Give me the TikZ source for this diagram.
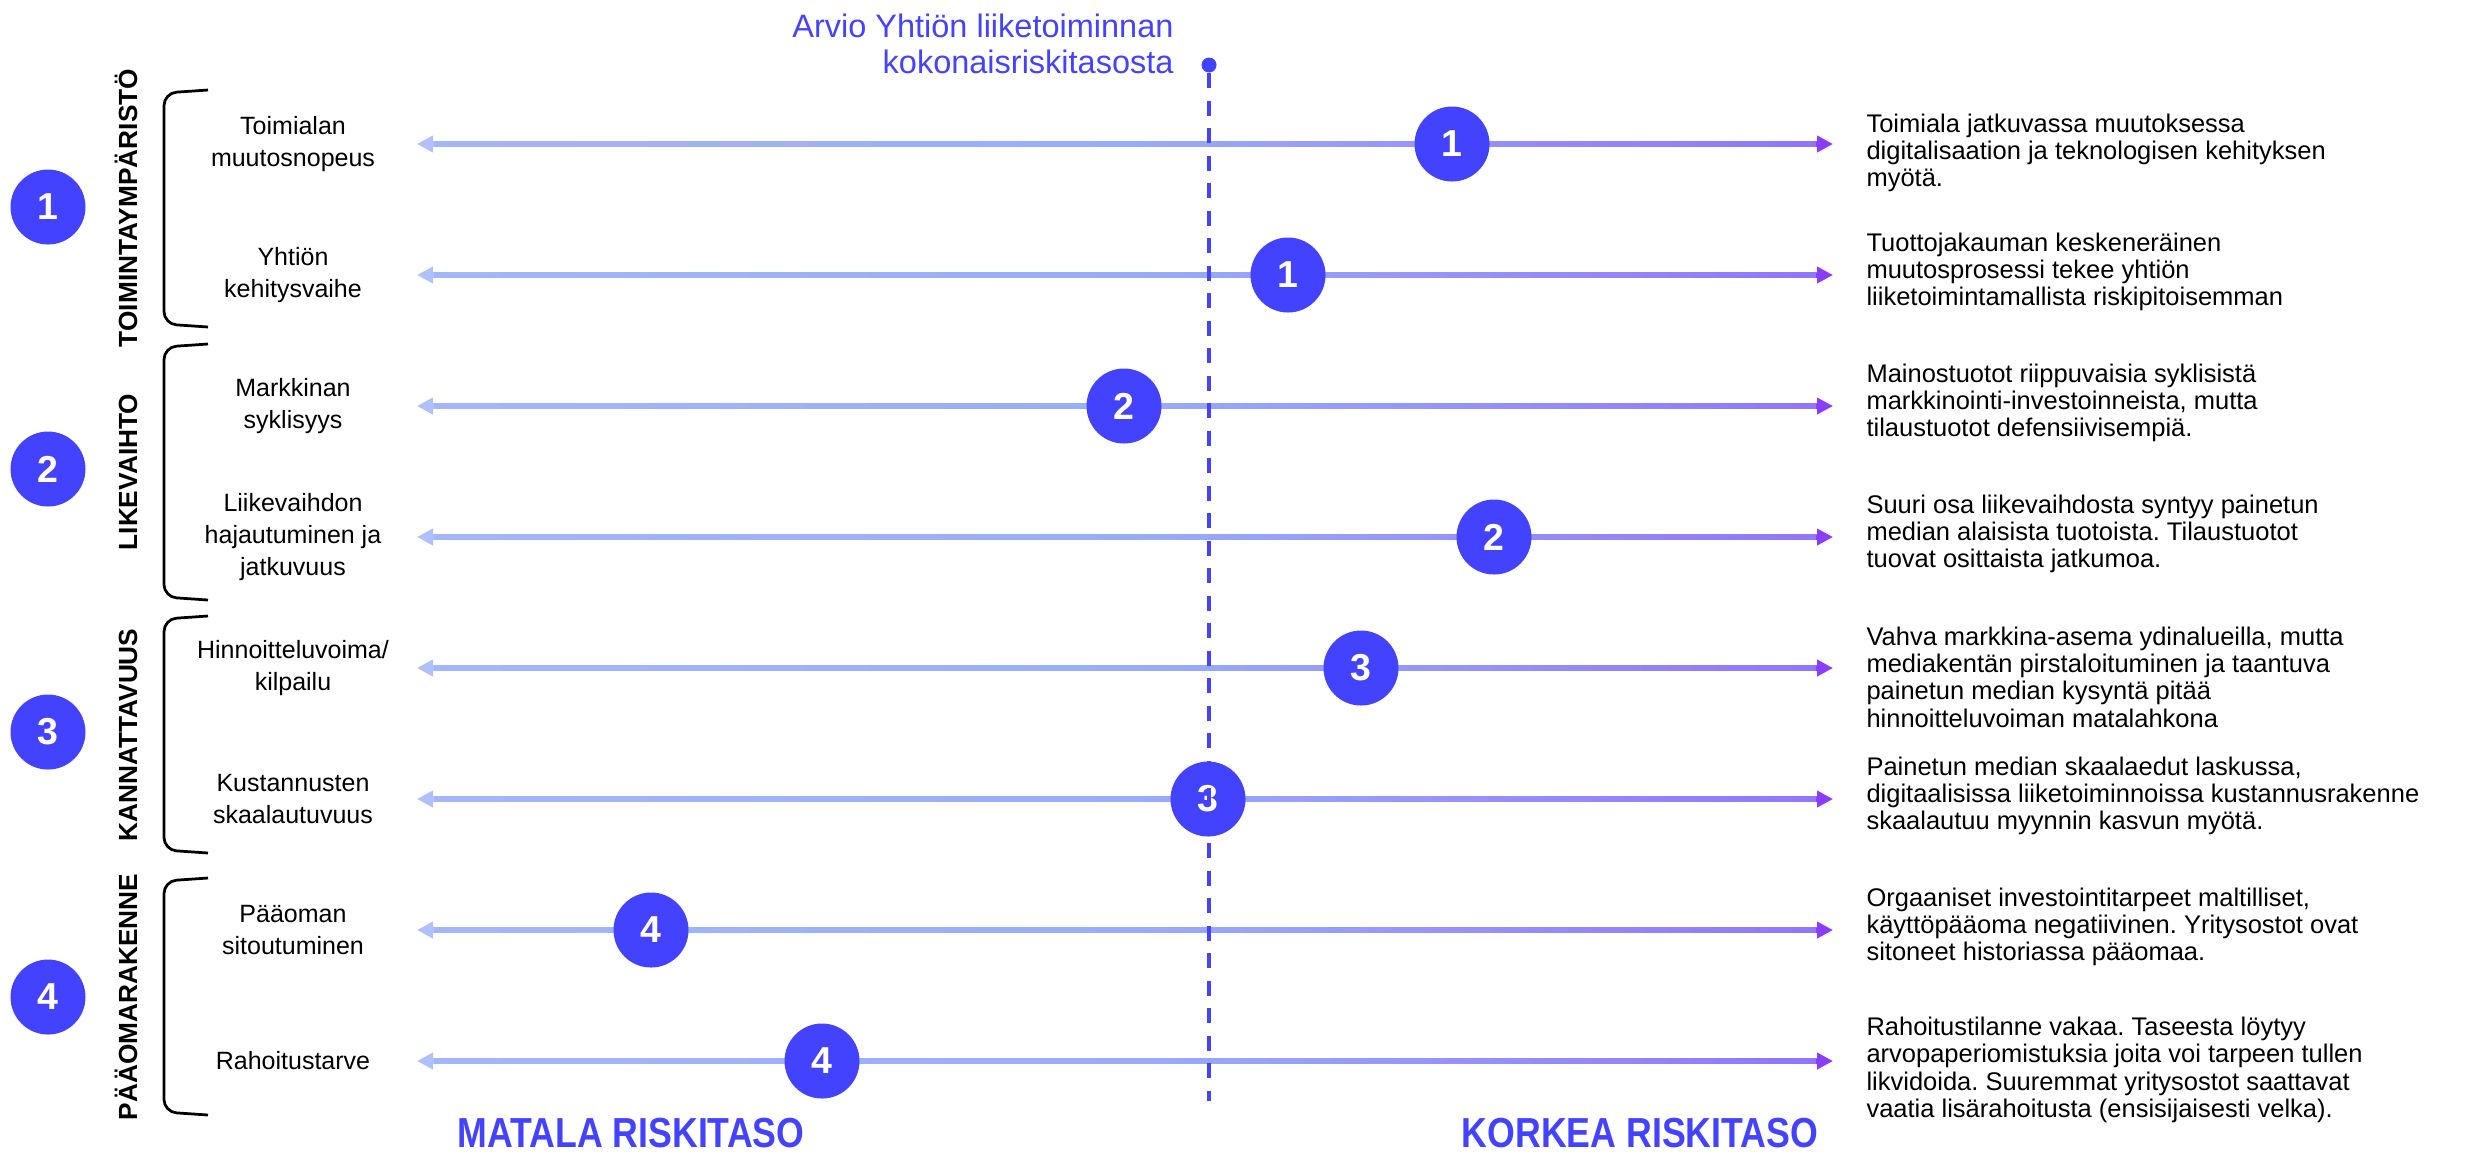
\documentclass[tikz,border=0pt]{standalone}
\usepackage{fontspec}
\setmainfont{Liberation Sans}
\newfontfamily\condfont[FakeStretch=0.85]{Liberation Sans}
\usetikzlibrary{arrows.meta,calc}
\frenchspacing

\definecolor{riskblue}{HTML}{4343FF}
\definecolor{barlo}{HTML}{B0C0FB}
\definecolor{barmid}{HTML}{98ADF9}
\definecolor{barhi}{HTML}{8B3DFF}

\pgfdeclarehorizontalshading{riskshade}{100bp}{color(0bp)=(barlo); color(50bp)=(barmid); color(100bp)=(barhi)}

\tikzset{
  numdot/.style={circle, fill=riskblue, text=white, inner sep=0pt, minimum size=30pt,
    font=\fontsize{15}{15}\selectfont\bfseries},
  rowlabel/.style={align=center, inner sep=0pt, font=\fontsize{10}{12.7}\selectfont},
  risktext/.style={anchor=west, align=left, inner sep=0pt, font=\fontsize{10.2}{10.9}\selectfont},
  grouplabel/.style={rotate=90, anchor=base, inner sep=0pt, font=\fontsize{10.5}{10.5}\selectfont\bfseries},
  bracket/.style={line width=1.1pt, rounded corners=5pt},
  barhead/.style={line width=2pt, -{Triangle[length=6.4pt,width=6.4pt]}},
  axisend/.style={text=riskblue, inner sep=0pt, font=\condfont\fontsize{16.8}{16.8}\selectfont\bfseries},
}

% shaded bar with a light head on the left and a dark head on the right
\newcommand{\riskbar}[2]{%
  \fill[shading=riskshade] ($(#1)+(10,-2.5)$) rectangle ($(#2)+(-10,2.5)$);
  \draw[barhead, barlo] ($(#1)+(17,0)$) -- (#1);
  \draw[barhead, barhi] ($(#2)+(-17,0)$) -- (#2);
}

\begin{document}
\begin{tikzpicture}[x=0.4pt, y=-0.4pt]
  \useasboundingbox (0,0) rectangle (2478,1156);

  % Estimate
  \node[align=right, anchor=east, inner sep=0pt, text=riskblue, font=\fontsize{13}{14.6}\selectfont]
    (title) at (1174,44) {Arvio Yhtiön liiketoiminnan\\kokonaisriskitasosta};
  \node[circle, fill=riskblue, inner sep=0pt, minimum size=6pt] (est) at (1209,65) {};
  \coordinate (estend) at (1209,1101);

  % Groups
  \node[numdot] (g1) at (48,207) {1};
  \node[numdot] (g2) at (48,469) {2};
  \node[numdot] (g3) at (48,732) {3};
  \node[numdot] (g4) at (48,997) {4};

  \node[grouplabel] (gl1) at (137,208) {TOIMINTAYMPÄRISTÖ};
  \node[grouplabel] (gl2) at (137,472) {LIKEVAIHTO};
  \node[grouplabel] (gl3) at (137,735) {KANNATTAVUUS};
  \node[grouplabel] (gl4) at (137,997) {PÄÄOMARAKENNE};

  \draw[bracket] (208,90) -- (164,93) -- (164,324) -- (208,327);
  \draw[bracket] (208,344) -- (164,347) -- (164,597) -- (208,600);
  \draw[bracket] (208,616) -- (164,619) -- (164,850) -- (208,853);
  \draw[bracket] (208,878) -- (164,881) -- (164,1112) -- (208,1115);

  % Row 1
  \node[rowlabel] (lab1) at (293,144) {Toimialan\\muutosnopeus};
  \coordinate (lo1) at (417,144);
  \coordinate (hi1) at (1833,144);
  \riskbar{lo1}{hi1}
  \node[numdot] (m1) at (1452,144) {1};
  \node[risktext] (txt1) at (1866,153) {Toimiala jatkuvassa muutoksessa\\digitalisaation ja teknologisen kehityksen\\myötä.};

  % Row 2
  \node[rowlabel] (lab2) at (293,275) {Yhtiön\\kehitysvaihe};
  \coordinate (lo2) at (417,275);
  \coordinate (hi2) at (1833,275);
  \riskbar{lo2}{hi2}
  \node[numdot] (m2) at (1288,275) {1};
  \node[risktext] (txt2) at (1866,272) {Tuottojakauman keskeneräinen\\muutosprosessi tekee yhtiön\\liiketoimintamallista riskipitoisemman};

  % Row 3
  \node[rowlabel] (lab3) at (293,406) {Markkinan\\syklisyys};
  \coordinate (lo3) at (417,406);
  \coordinate (hi3) at (1833,406);
  \riskbar{lo3}{hi3}
  \node[numdot] (m3) at (1124,406) {2};
  \node[risktext] (txt3) at (1866,403) {Mainostuotot riippuvaisia syklisistä\\markkinointi-investoinneista, mutta\\tilaustuotot defensiivisempiä.};

  % Row 4
  \node[rowlabel] (lab4) at (293,537) {Liikevaihdon\\hajautuminen ja\\jatkuvuus};
  \coordinate (lo4) at (417,537);
  \coordinate (hi4) at (1833,537);
  \riskbar{lo4}{hi4}
  \node[numdot] (m4) at (1494,537) {2};
  \node[risktext] (txt4) at (1866,534) {Suuri osa liikevaihdosta syntyy painetun\\median alaisista tuotoista. Tilaustuotot\\tuovat osittaista jatkumoa.};

  % Row 5
  \node[rowlabel] (lab5) at (293,668) {Hinnoitteluvoima/\\kilpailu};
  \coordinate (lo5) at (417,668);
  \coordinate (hi5) at (1833,668);
  \riskbar{lo5}{hi5}
  \node[numdot] (m5) at (1361,668) {3};
  \node[risktext] (txt5) at (1866,677) {Vahva markkina-asema ydinalueilla, mutta\\mediakentän pirstaloituminen ja taantuva\\painetun median kysyntä pitää\\hinnoitteluvoiman matalahkona};

  % Row 6
  \node[rowlabel] (lab6) at (293,799) {Kustannusten\\skaalautuvuus};
  \coordinate (lo6) at (417,799);
  \coordinate (hi6) at (1833,799);
  \riskbar{lo6}{hi6}
  \node[numdot] (m6) at (1208,799) {3};
  \node[risktext] (txt6) at (1866,796) {Painetun median skaalaedut laskussa,\\digitaalisissa liiketoiminnoissa kustannusrakenne\\skaalautuu myynnin kasvun myötä.};

  % Row 7
  \node[rowlabel] (lab7) at (293,930) {Pääoman\\sitoutuminen};
  \coordinate (lo7) at (417,930);
  \coordinate (hi7) at (1833,930);
  \riskbar{lo7}{hi7}
  \node[numdot] (m7) at (651,930) {4};
  \node[risktext] (txt7) at (1866,927) {Orgaaniset investointitarpeet maltilliset,\\käyttöpääoma negatiivinen. Yritysostot ovat\\sitoneet historiassa pääomaa.};

  % Row 8
  \node[rowlabel] (lab8) at (293,1061) {Rahoitustarve};
  \coordinate (lo8) at (417,1061);
  \coordinate (hi8) at (1833,1061);
  \riskbar{lo8}{hi8}
  \node[numdot] (m8) at (822,1061) {4};
  \node[risktext] (txt8) at (1866,1070) {Rahoitustilanne vakaa. Taseesta löytyy\\arvopaperiomistuksia joita voi tarpeen tullen\\likvidoida. Suuremmat yritysostot saattavat\\vaatia lisärahoitusta (ensisijaisesti velka).};

  % Estimate line over the rows
  \draw[riskblue, line width=1.6pt, dash pattern=on 6pt off 5pt] (est) -- (estend);

  % Axis ends
  \node[axisend] (low) at (631,1133) {MATALA RISKITASO};
  \node[axisend] (high) at (1640,1133) {KORKEA RISKITASO};
\end{tikzpicture}
\end{document}
